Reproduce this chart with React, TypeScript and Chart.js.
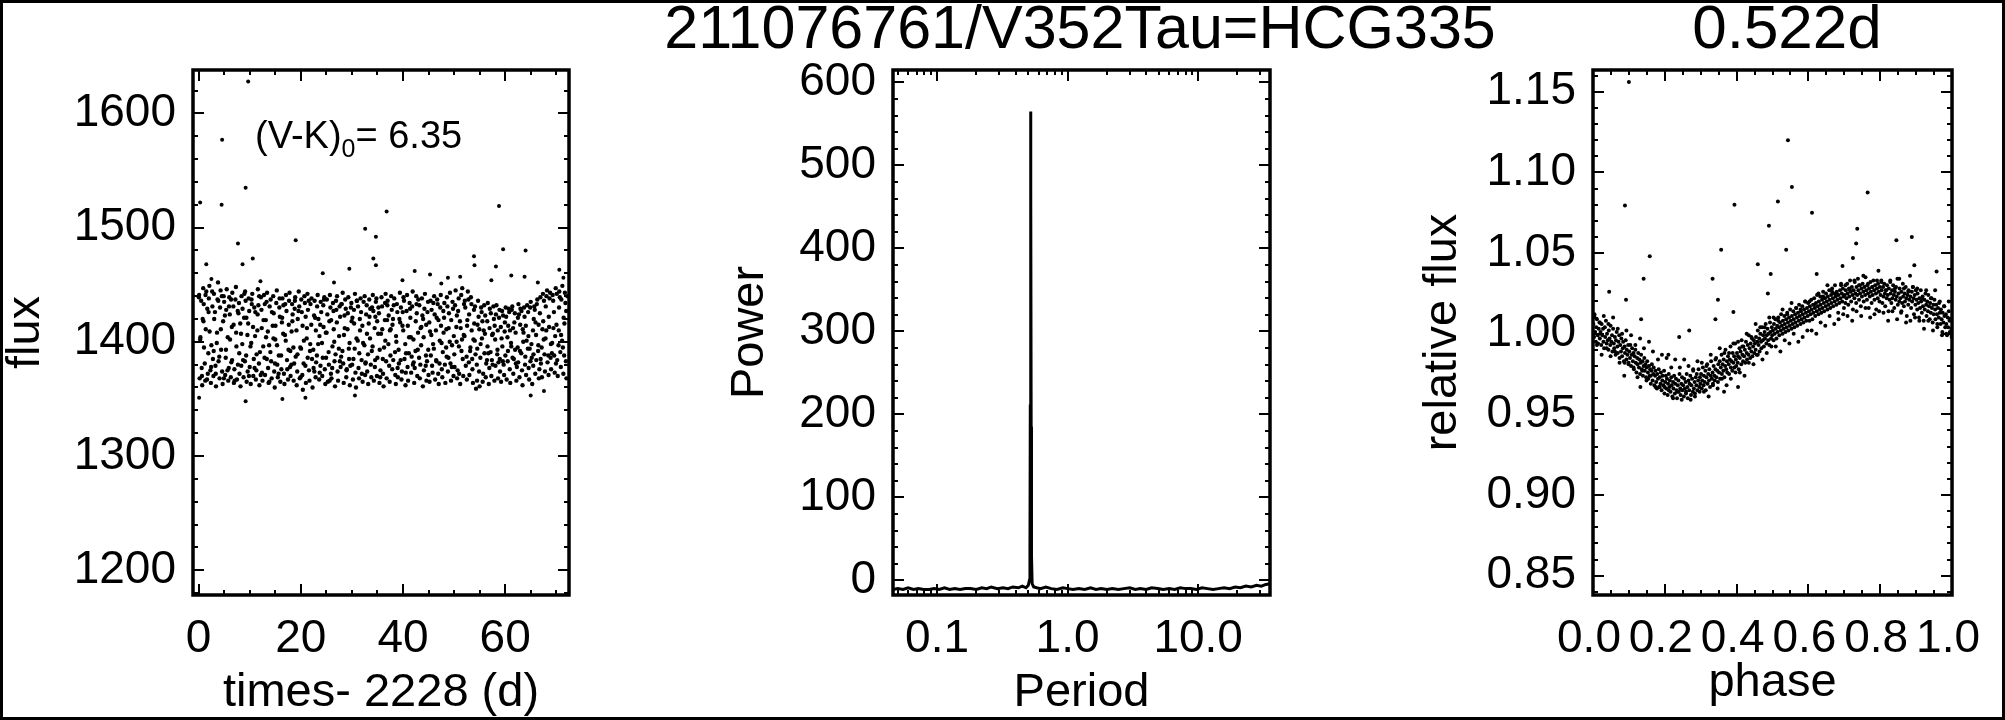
import { useEffect, useRef } from "react";
import { Chart, registerables } from "chart.js";
Chart.register(...registerables);

const FONT = "'Liberation Sans', Arial, Helvetica, sans-serif";
const W = 2005;
const H = 720;

// ---------------- Panel 1 : light curve ----------------
const lcTitle = "times- 2228 (d)";
const lcXTicks = [0, 20, 40, 60];
const lcXTickLabels = ["0", "20", "40", "60"];
const lcXMinor = [5, 10, 15, 25, 30, 35, 45, 50, 55, 65, 70];
const lcYTicks = [1200, 1300, 1400, 1500, 1600];
const lcYTickLabels = ["1200", "1300", "1400", "1500", "1600"];
const lcYMinor = [1180, 1220, 1240, 1260, 1280, 1320, 1340, 1360, 1380, 1420, 1440, 1460, 1480, 1520, 1540, 1560, 1580, 1620];

const lightCurve: [number, number][] = [
  [0.1,1441],[0.2,1368],[0.3,1402],[0.5,1436],[0.6,1377],[0.7,1362],[0.8,1420],[0.9,1447],
  [1.0,1433],[1.2,1381],[1.3,1366],[1.4,1411],[1.5,1444],[1.7,1429],[1.8,1372],[1.9,1390],
  [2.0,1438],[2.1,1449],[2.3,1375],[2.4,1364],[2.5,1397],[2.7,1431],[2.8,1385],[2.9,1370],
  [3.0,1442],[3.2,1426],[3.3,1379],[3.4,1361],[3.6,1408],[3.7,1437],[3.8,1452],[3.9,1383],
  [4.1,1368],[4.2,1430],[4.3,1445],[4.4,1393],[4.6,1374],[4.7,1363],[4.8,1418],[4.9,1440],
  [5.0,1435],[5.2,1371],[5.3,1386],[5.4,1428],[5.5,1446],[5.7,1404],[5.8,1366],[5.9,1377],
  [6.0,1439],[6.1,1424],[6.3,1369],[6.4,1382],[6.5,1413],[6.6,1443],[6.8,1431],[6.9,1364],
  [7.0,1376],[7.2,1437],[7.3,1448],[7.4,1396],[7.5,1367],[7.7,1380],[7.8,1425],[7.9,1434],
  [8.0,1372],[8.2,1361],[8.3,1407],[8.4,1440],[8.6,1429],[8.7,1384],[8.8,1369],[8.9,1421],
  [9.1,1444],[9.2,1436],[9.3,1388],[9.4,1365],[9.6,1374],[9.7,1416],[9.8,1438],[9.9,1427],
  [10.0,1378],[10.2,1363],[10.3,1399],[10.4,1433],[10.5,1442],[10.7,1370],[10.8,1385],[10.9,1430],
  [11.1,1426],[11.2,1367],[11.3,1375],[11.5,1410],[11.6,1446],[11.7,1432],[11.8,1381],[11.9,1362],
  [12.0,1391],[12.2,1439],[12.3,1428],[12.4,1373],[12.5,1366],[12.7,1419],[12.8,1441],[12.9,1386],
  [13.0,1371],[13.2,1404],[13.3,1435],[13.4,1443],[13.6,1377],[13.7,1364],[13.8,1397],[13.9,1431],
  [14.1,1437],[14.2,1383],[14.3,1368],[14.5,1414],[14.6,1440],[14.7,1425],[14.8,1374],[14.9,1360],
  [15.0,1402],[15.2,1434],[15.3,1445],[15.4,1380],[15.5,1369],[15.7,1388],[15.8,1430],[15.9,1422],
  [16.0,1365],[16.2,1376],[16.3,1417],[16.4,1438],[16.6,1432],[16.7,1372],[16.8,1363],[16.9,1406],
  [17.1,1441],[17.2,1427],[17.3,1384],[17.5,1367],[17.6,1393],[17.7,1436],[17.8,1443],[17.9,1378],
  [18.0,1370],[18.2,1409],[18.3,1433],[18.4,1424],[18.6,1366],[18.7,1381],[18.8,1429],[18.9,1439],
  [19.0,1387],[19.2,1362],[19.3,1374],[19.4,1420],[19.6,1444],[19.7,1431],[19.8,1368],[19.9,1395],
  [20.1,1437],[20.2,1426],[20.3,1371],[20.4,1358],[20.6,1401],[20.7,1440],[20.8,1434],[20.9,1379],
  [21.0,1364],[21.2,1412],[21.3,1442],[21.4,1428],[21.6,1375],[21.7,1366],[21.8,1392],[21.9,1433],
  [22.1,1438],[22.2,1385],[22.3,1360],[22.5,1377],[22.6,1423],[22.7,1436],[22.8,1421],[22.9,1369],
  [23.0,1382],[23.2,1431],[23.3,1441],[23.4,1398],[23.6,1367],[23.7,1373],[23.8,1415],[23.9,1435],
  [24.0,1426],[24.2,1370],[24.3,1386],[24.4,1432],[24.6,1439],[24.7,1376],[24.8,1363],[24.9,1408],
  [25.1,1437],[25.2,1424],[25.3,1365],[25.5,1380],[25.6,1418],[25.7,1441],[25.8,1430],[25.9,1372],
  [26.0,1368],[26.2,1396],[26.3,1434],[26.4,1427],[26.6,1383],[26.7,1361],[26.8,1389],[26.9,1436],
  [27.1,1440],[27.2,1374],[27.3,1366],[27.5,1405],[27.6,1431],[27.7,1422],[27.8,1378],[27.9,1387],
  [28.0,1433],[28.2,1443],[28.3,1381],[28.4,1364],[28.6,1412],[28.7,1437],[28.8,1429],[28.9,1369],
  [29.0,1376],[29.2,1425],[29.3,1439],[29.4,1394],[29.6,1362],[29.7,1379],[29.8,1430],[29.9,1434],
  [30.1,1421],[30.2,1367],[30.3,1385],[30.4,1428],[30.6,1442],[30.7,1373],[30.8,1360],[30.9,1403],
  [31.0,1436],[31.2,1431],[31.3,1377],[31.4,1368],[31.6,1410],[31.7,1438],[31.8,1426],[31.9,1384],
  [32.1,1365],[32.2,1399],[32.3,1435],[32.5,1440],[32.6,1371],[32.7,1382],[32.8,1424],[32.9,1432],
  [33.0,1374],[33.2,1363],[33.3,1416],[33.4,1437],[33.6,1429],[33.7,1380],[33.8,1369],[33.9,1392],
  [34.1,1441],[34.2,1427],[34.3,1366],[34.5,1378],[34.6,1422],[34.7,1435],[34.8,1438],[34.9,1370],
  [35.0,1386],[35.2,1430],[35.3,1425],[35.4,1364],[35.6,1375],[35.7,1407],[35.8,1439],[35.9,1431],
  [36.1,1372],[36.2,1361],[36.3,1395],[36.5,1434],[36.6,1442],[36.7,1383],[36.8,1368],[36.9,1419],
  [37.0,1436],[37.2,1423],[37.3,1379],[37.4,1365],[37.6,1411],[37.7,1440],[37.8,1428],[37.9,1376],
  [38.1,1384],[38.2,1432],[38.3,1438],[38.5,1371],[38.6,1363],[38.7,1400],[38.8,1433],[38.9,1426],
  [39.0,1369],[39.2,1381],[39.3,1420],[39.4,1443],[39.6,1430],[39.7,1367],[39.8,1374],[39.9,1414],
  [40.1,1439],[40.2,1436],[40.3,1385],[40.5,1362],[40.6,1390],[40.7,1427],[40.8,1441],[40.9,1378],
  [41.0,1366],[41.2,1404],[41.3,1434],[41.4,1429],[41.6,1373],[41.7,1387],[41.8,1431],[41.9,1444],
  [42.1,1382],[42.2,1364],[42.3,1377],[42.5,1418],[42.6,1440],[42.7,1425],[42.8,1370],[42.9,1393],
  [43.0,1437],[43.2,1432],[43.3,1368],[43.4,1380],[43.6,1413],[43.7,1438],[43.8,1423],[43.9,1361],
  [44.1,1375],[44.2,1429],[44.3,1442],[44.5,1388],[44.6,1366],[44.7,1383],[44.8,1426],[44.9,1435],
  [45.0,1371],[45.2,1365],[45.3,1409],[45.4,1436],[45.6,1428],[45.7,1379],[45.8,1373],[45.9,1398],
  [46.1,1440],[46.2,1424],[46.3,1367],[46.5,1384],[46.6,1421],[46.7,1437],[46.8,1433],[46.9,1372],
  [47.0,1363],[47.2,1401],[47.3,1430],[47.4,1441],[47.6,1376],[47.7,1369],[47.8,1391],[47.9,1427],
  [48.1,1434],[48.2,1380],[48.3,1364],[48.5,1411],[48.6,1439],[48.7,1431],[48.8,1374],[48.9,1386],
  [49.0,1425],[49.2,1443],[49.3,1381],[49.4,1366],[49.6,1397],[49.7,1435],[49.8,1429],[49.9,1370],
  [50.1,1378],[50.2,1432],[50.3,1445],[50.5,1400],[50.6,1368],[50.7,1375],[50.8,1427],[50.9,1438],
  [51.0,1372],[51.2,1363],[51.3,1412],[51.4,1441],[51.6,1447],[51.7,1385],[51.8,1370],[51.9,1406],
  [52.1,1436],[52.2,1430],[52.3,1379],[52.5,1367],[52.6,1419],[52.7,1444],[52.8,1437],[52.9,1382],
  [53.0,1371],[53.2,1395],[53.3,1439],[53.4,1433],[53.6,1376],[53.7,1364],[53.8,1402],[53.9,1428],
  [54.1,1431],[54.2,1389],[54.3,1359],[54.5,1366],[54.6,1415],[54.7,1436],[54.8,1422],[54.9,1374],
  [55.0,1361],[55.2,1398],[55.3,1430],[55.4,1426],[55.6,1365],[55.7,1372],[55.8,1410],[55.9,1432],
  [56.1,1423],[56.2,1369],[56.3,1381],[56.5,1418],[56.6,1434],[56.7,1390],[56.8,1363],[56.9,1377],
  [57.0,1429],[57.2,1425],[57.3,1370],[57.4,1384],[57.6,1407],[57.7,1431],[57.8,1420],[57.9,1366],
  [58.1,1379],[58.2,1424],[58.3,1432],[58.5,1393],[58.6,1368],[58.7,1382],[58.8,1421],[58.9,1428],
  [59.0,1374],[59.2,1365],[59.3,1403],[59.4,1427],[59.6,1423],[59.7,1380],[59.8,1371],[59.9,1409],
  [60.1,1430],[60.2,1422],[60.3,1367],[60.5,1383],[60.6,1414],[60.7,1429],[60.8,1426],[60.9,1376],
  [61.0,1364],[61.2,1396],[61.3,1428],[61.4,1431],[61.6,1372],[61.7,1385],[61.8,1417],[61.9,1425],
  [62.1,1381],[62.2,1366],[62.3,1378],[62.5,1421],[62.6,1433],[62.7,1424],[62.8,1369],[62.9,1392],
  [63.0,1429],[63.2,1427],[63.3,1375],[63.4,1362],[63.6,1408],[63.7,1430],[63.8,1422],[63.9,1380],
  [64.1,1371],[64.2,1401],[64.3,1432],[64.5,1426],[64.6,1377],[64.7,1367],[64.8,1394],[64.9,1430],
  [65.0,1435],[65.2,1386],[65.3,1363],[65.5,1379],[65.6,1420],[65.7,1431],[65.8,1428],[65.9,1372],
  [66.1,1384],[66.2,1433],[66.3,1437],[66.5,1397],[66.6,1368],[66.7,1376],[66.8,1425],[66.9,1439],
  [67.0,1381],[67.2,1369],[67.3,1411],[67.4,1442],[67.6,1436],[67.7,1389],[67.8,1374],[67.9,1403],
  [68.1,1440],[68.2,1445],[68.3,1382],[68.5,1371],[68.6,1413],[68.7,1438],[68.8,1443],[68.9,1386],
  [69.0,1376],[69.2,1399],[69.3,1441],[69.4,1436],[69.6,1388],[69.7,1373],[69.8,1405],[69.9,1447],
  [70.1,1442],[70.2,1384],[70.3,1370],[70.5,1410],[70.6,1444],[70.7,1439],[70.8,1391],[70.9,1378],
  [71.0,1437],[71.2,1449],[71.3,1395],[71.4,1372],[71.6,1416],[71.7,1443],[71.8,1434],[71.9,1383],
  [72.0,1368],[72.2,1440],
  [0.05,1439],[0.35,1404],[0.65,1370],[0.95,1418],[1.05,1395],[1.35,1441],[1.65,1367],[1.95,1426],
  [2.15,1409],[2.45,1378],[2.65,1444],[2.95,1392],[3.05,1420],[3.35,1372],[3.55,1399],[3.85,1436],
  [4.05,1387],[4.35,1411],[4.55,1440],[4.95,1368],[5.15,1423],[5.35,1393],[5.65,1375],[5.95,1431],
  [6.15,1402],[6.35,1437],[6.55,1384],[6.85,1415],[7.05,1366],[7.35,1408],[7.65,1427],[7.95,1390],
  [8.15,1416],[8.35,1379],[8.55,1398],[8.95,1442],[9.05,1383],[9.35,1421],[9.55,1406],[9.85,1370],
  [10.15,1396],[10.35,1437],[10.65,1413],[10.95,1377],[11.05,1405],[11.35,1389],[11.55,1424],[11.85,1440],
  [12.15,1371],[12.35,1412],[12.65,1396],[12.95,1433],[13.15,1419],[13.35,1385],[13.55,1409],[13.85,1365],
  [14.05,1391],[14.35,1426],[14.65,1403],[14.95,1381],[15.05,1414],[15.35,1397],[15.65,1372],[15.85,1438],
  [16.15,1388],[16.35,1421],[16.55,1407],[16.95,1433],[17.05,1401],[17.35,1376],[17.65,1415],[17.95,1392],
  [18.15,1380],[18.35,1418],[18.55,1395],[18.85,1436],[19.15,1410],[19.35,1389],[19.55,1427],[19.95,1369],
  [20.05,1394],[20.35,1414],[20.55,1381],[20.95,1422],[21.15,1403],[21.35,1386],[21.55,1436],[21.85,1398],
  [22.05,1415],[22.45,1393],[22.65,1374],[22.95,1410],[23.15,1388],[23.45,1420],[23.65,1405],[23.85,1379],
  [24.15,1399],[24.45,1413],[24.55,1437],[24.95,1386],[25.05,1408],[25.45,1391],[25.65,1366],[25.95,1419],
  [26.15,1377],[26.45,1411],[26.55,1400],[26.95,1428],[27.05,1417],[27.45,1394],[27.65,1383],[27.95,1433],
  [28.15,1392],[28.45,1406],[28.55,1423],[28.95,1375],[29.15,1411],[29.45,1385],[29.55,1399],[29.95,1418],
  [30.05,1380],[30.45,1416],[30.55,1394],[30.95,1436],[31.15,1401],[31.45,1390],[31.55,1420],[31.95,1372],
  [32.05,1414],[32.45,1397],[32.65,1381],[32.95,1407],[33.15,1389],[33.45,1422],[33.55,1403],[33.95,1430],
  [34.05,1396],[34.45,1412],[34.55,1384],[34.95,1418],[35.15,1407],[35.45,1393],[35.55,1369],[35.95,1411],
  [36.05,1385],[36.45,1419],[36.55,1401],[36.95,1432],[37.15,1398],[37.45,1410],[37.55,1388],[37.95,1415],
  [38.05,1420],[38.45,1391],[38.65,1405],[38.95,1377],[39.15,1393],[39.45,1417],[39.55,1384],[39.95,1426],
  [40.05,1410],[40.45,1398],[40.55,1373],[40.95,1414],[41.15,1390],[41.45,1421],[41.55,1404],[41.95,1380],
  [42.05,1402],[42.45,1392],[42.65,1433],[42.95,1408],[43.15,1386],[43.45,1412],[43.55,1397],[43.95,1420],
  [44.05,1404],[44.45,1379],[44.55,1415],[44.95,1393],[45.15,1417],[45.45,1388],[45.55,1406],[45.95,1434],
  [46.05,1394],[46.45,1410],[46.55,1383],[46.95,1419],[47.15,1381],[47.45,1414],[47.55,1399],[47.95,1408],
  [48.05,1421],[48.45,1395],[48.55,1387],[48.95,1412],[49.15,1400],[49.45,1419],[49.55,1378],[49.95,1405],
  [50.05,1389],[50.45,1413],[50.55,1423],[50.95,1396],[51.15,1418],[51.45,1392],[51.55,1402],[51.95,1433],
  [52.05,1405],[52.45,1387],[52.55,1414],[52.95,1424],[53.15,1392],[53.45,1410],[53.55,1385],[53.95,1416],
  [54.05,1401],[54.45,1380],[54.55,1394],[54.95,1411],[55.15,1386],[55.45,1403],[55.55,1418],[55.95,1390],
  [56.05,1407],[56.45,1384],[56.55,1396],[56.95,1412],[57.15,1391],[57.45,1406],[57.55,1380],[57.95,1414],
  [58.05,1402],[58.45,1389],[58.55,1410],[58.95,1385],[59.15,1413],[59.45,1396],[59.55,1383],[59.95,1417],
  [60.05,1388],[60.45,1404],[60.55,1392],[60.95,1410],[61.15,1399],[61.45,1386],[61.55,1412],[61.95,1393],
  [62.05,1408],[62.45,1395],[62.55,1382],[62.95,1415],[63.15,1390],[63.45,1411],[63.55,1400],[63.95,1387],
  [64.05,1414],[64.45,1394],[64.55,1405],[64.95,1383],[65.15,1398],[65.45,1410],[65.55,1389],[65.95,1417],
  [66.05,1406],[66.45,1392],[66.55,1415],[66.95,1385],[67.15,1395],[67.45,1418],[67.55,1402],[67.95,1431],
  [68.05,1410],[68.45,1388],[68.55,1422],[68.95,1398],[69.15,1390],[69.45,1412],[69.55,1426],[69.95,1381],
  [70.05,1415],[70.45,1397],[70.55,1430],[70.95,1406],[71.15,1401],[71.45,1421],[71.55,1388],[71.95,1427],
];
const lightCurveOutliers: [number, number][] = [
  [9.7,1628],[4.6,1577],[0.3,1522],[4.5,1520],[9.2,1535],[7.7,1486],[19.0,1489],[36.8,1514],
  [32.6,1499],[34.7,1492],[34.2,1473],[58.8,1519],[59.6,1481],[64.0,1480],[53.9,1475],[54.0,1467],
  [1.5,1468],[10.6,1473],[8.6,1468],[29.5,1464],[24.3,1460],[42.3,1462],[45.3,1459],[58.2,1466],
  [61.2,1458],[63.8,1457],[34.7,1467],[70.6,1463],[48.8,1456],[9.2,1348],[16.4,1350],[20.9,1351],
  [30.6,1353],[65.0,1353],[67.6,1357],[0.1,1351],[2.5,1455],[12.1,1453],[26.5,1452],[39.9,1454],
  [47.5,1451],[51.2,1457],[57.3,1454],[66.4,1452],[71.4,1456],
];

// ---------------- Panel 2 : periodogram ----------------
const psXTicks = [0.1, 1, 10];
const psXTickLabels = ["0.1", "1.0", "10.0"];
const psXMinor = [0.05, 0.06, 0.07, 0.08, 0.09, 0.2, 0.3, 0.4, 0.5, 0.6, 0.7, 0.8, 0.9, 2, 3, 4, 5, 6, 7, 8, 9, 20, 30];
const psYTicks = [0, 100, 200, 300, 400, 500, 600];
const psYTickLabels = ["0", "100", "200", "300", "400", "500", "600"];
const psYMinor = [20, 40, 60, 80, 120, 140, 160, 180, 220, 240, 260, 280, 320, 340, 360, 380, 420, 440, 460, 480, 520, 540, 560, 580];
const psPeriod = [
  0.046, 0.05, 0.055, 0.06, 0.066, 0.072, 0.079, 0.087, 0.095, 0.104, 0.114, 0.125, 0.137, 0.15,
  0.165, 0.18, 0.2, 0.22, 0.24, 0.26, 0.29, 0.32, 0.35, 0.38, 0.42, 0.45, 0.48, 0.5, 0.51, 0.515,
  0.518, 0.52, 0.522, 0.524, 0.526, 0.529, 0.535, 0.55, 0.58, 0.62, 0.68, 0.75, 0.83, 0.92, 1.0,
  1.1, 1.22, 1.35, 1.5, 1.65, 1.8, 2.0, 2.2, 2.45, 2.7, 3.0, 3.3, 3.6, 4.0, 4.4, 4.9, 5.4, 6.0,
  6.6, 7.3, 8.0, 8.8, 9.7, 10.7, 11.8, 13, 14.3, 15.8, 17.4, 19.2, 21.1, 23.2, 25.5, 28, 30.5, 33, 35.5,
];
const psPower = [
  -11, -10, -11, -9, -11, -10, -11, -11, -10, -11, -9, -11, -10, -11,
  -10, -10, -11, -9, -10, -8, -10, -9, -10, -8, -9, -7, -9, -6, 0, 35,
  210, 480, 565, 470, 185, 30, -4, -8, -9, -10, -8, -10, -11, -9, -10,
  -11, -10, -11, -9, -11, -10, -11, -10, -11, -10, -9, -11, -10, -11, -9, -10, -11, -10,
  -11, -9, -10, -10, -11, -9, -10, -11, -10, -9, -10, -8, -9, -7, -8, -6, -7, -5, -4,
];

// ---------------- Panel 3 : phased curve ----------------
const phXTicks = [0, 0.2, 0.4, 0.6, 0.8, 1.0];
const phXTickLabels = ["0.0", "0.2", "0.4", "0.6", "0.8", "1.0"];
const phXMinor = [0.05, 0.1, 0.15, 0.25, 0.3, 0.35, 0.45, 0.5, 0.55, 0.65, 0.7, 0.75, 0.85, 0.9, 0.95];
const phYTicks = [0.85, 0.9, 0.95, 1.0, 1.05, 1.1, 1.15];
const phYTickLabels = ["0.85", "0.90", "0.95", "1.00", "1.05", "1.10", "1.15"];
const phYMinor = [
  0.84, 0.86, 0.87, 0.88, 0.89, 0.91, 0.92, 0.93, 0.94, 0.96, 0.97, 0.98, 0.99, 1.01, 1.02, 1.03, 1.04,
  1.06, 1.07, 1.08, 1.09, 1.11, 1.12, 1.13, 1.14, 1.16,
];
const phased: [number, number][] = [
  [.001,1.006],[.003,.998],[.004,1.011],[.006,1.001],[.008,.995],[.009,1.004],[.011,1.009],[.013,.999],[.014,.994],[.016,1.003],[.018,1.007],[.019,.997],[.021,1.001],[.023,.993],[.024,1.006],[.026,.999],[.028,1.003],[.029,.995],[.031,.991],[.033,1.004],[.034,.998],[.036,1.008],[.038,.994],[.039,1.000],[.041,.996],[.043,.990],[.044,1.002],[.046,.997],[.048,.993],[.049,1.005],
  [.051,.995],[.053,.999],[.054,.989],[.056,1.003],[.058,.994],[.059,.991],[.061,.998],[.063,.987],[.064,.996],[.066,1.001],[.068,.992],[.069,.988],[.071,.995],[.073,.999],[.074,.985],[.076,.993],[.078,.989],[.079,.997],[.081,.986],[.083,.991],[.084,.995],[.086,.983],[.088,.992],[.089,.988],[.091,.996],[.093,.984],[.094,.990],[.096,.987],[.098,.993],[.099,.981],
  [.101,.989],[.103,.985],[.104,.993],[.106,.980],[.108,.987],[.109,.991],[.111,.983],[.113,.988],[.114,.978],[.116,.986],[.118,.990],[.119,.982],[.121,.976],[.123,.985],[.124,.981],[.126,.988],[.128,.979],[.129,.984],[.131,.975],[.133,.982],[.134,.987],[.136,.978],[.138,.983],[.139,.974],[.141,.980],[.143,.985],[.144,.977],[.146,.981],[.148,.973],[.149,.979],
  [.151,.983],[.153,.976],[.154,.972],[.156,.980],[.158,.974],[.159,.978],[.161,.969],[.163,.977],[.164,.981],[.166,.971],[.168,.975],[.169,.979],[.171,.968],[.173,.974],[.174,.977],[.176,.970],[.178,.966],[.179,.975],[.181,.972],[.183,.978],[.184,.967],[.186,.973],[.188,.969],[.189,.976],[.191,.965],[.193,.971],[.194,.974],[.196,.968],[.198,.977],[.199,.963],
  [.201,.970],[.203,.974],[.204,.966],[.206,.972],[.208,.962],[.209,.969],[.211,.975],[.213,.967],[.214,.971],[.216,.964],[.218,.973],[.219,.968],[.221,.961],[.223,.970],[.224,.966],[.226,.974],[.228,.963],[.229,.969],[.231,.972],[.233,.965],[.234,.960],[.236,.968],[.238,.971],[.239,.964],[.241,.975],[.243,.966],[.244,.962],[.246,.969],[.248,.973],[.249,.965],
  [.251,.968],[.253,.961],[.254,.972],[.256,.966],[.258,.970],[.259,.963],[.261,.975],[.263,.967],[.264,.960],[.266,.971],[.268,.965],[.269,.969],[.271,.974],[.273,.962],[.274,.968],[.276,.972],[.278,.964],[.279,.977],[.281,.966],[.283,.970],[.284,.963],[.286,.973],[.288,.968],[.289,.975],[.291,.965],[.293,.971],[.294,.978],[.296,.967],[.298,.973],[.299,.969],
  [.301,.975],[.303,.966],[.304,.971],[.306,.979],[.308,.968],[.309,.974],[.311,.970],[.313,.977],[.314,.965],[.316,.973],[.318,.981],[.319,.969],[.321,.975],[.323,.971],[.324,.978],[.326,.967],[.328,.974],[.329,.983],[.331,.972],[.333,.976],[.334,.969],[.336,.980],[.338,.974],[.339,.971],[.341,.978],[.343,.985],[.344,.973],[.346,.977],[.348,.970],[.349,.981],
  [.351,.976],[.353,.983],[.354,.972],[.356,.979],[.358,.987],[.359,.975],[.361,.981],[.363,.977],[.364,.984],[.366,.973],[.368,.980],[.369,.990],[.371,.978],[.373,.983],[.374,.976],[.376,.986],[.378,.981],[.379,.975],[.381,.984],[.383,.992],[.384,.979],[.386,.983],[.388,.977],[.389,.988],[.391,.982],[.393,.986],[.394,.979],[.396,.994],[.398,.984],[.399,.980],
  [.401,.988],[.403,.982],[.404,.986],[.406,.978],[.408,.991],[.409,.985],[.411,.989],[.413,.981],[.414,.996],[.416,.987],[.418,.983],[.419,.992],[.421,.986],[.423,.990],[.424,.982],[.426,.995],[.428,.988],[.429,.984],[.431,.993],[.433,.987],[.434,.999],[.436,.991],[.438,.985],[.439,.994],[.441,.989],[.443,.997],[.444,.986],[.446,.992],[.448,.996],[.449,.988],
  [.451,.994],[.453,.990],[.454,.998],[.456,.987],[.458,.995],[.459,1.002],[.461,.993],[.463,.997],[.464,.989],[.466,1.000],[.468,.995],[.469,.991],[.471,1.004],[.473,.996],[.474,.999],[.476,.992],[.478,1.001],[.479,.997],[.481,1.006],[.483,.994],[.484,.999],[.486,1.003],[.488,.996],[.489,1.000],[.491,.993],[.493,1.007],[.494,1.001],[.496,.997],[.498,1.004],[.499,.999],
  [.501,1.002],[.503,.996],[.504,1.006],[.506,1.000],[.508,1.009],[.509,1.003],[.511,.997],[.513,1.005],[.514,1.001],[.516,1.010],[.518,1.004],[.519,.999],[.521,1.007],[.523,1.002],[.524,1.012],[.526,1.005],[.528,1.000],[.529,1.008],[.531,1.003],[.533,1.011],[.534,1.006],[.536,1.001],[.538,1.009],[.539,1.004],[.541,1.013],[.543,1.007],[.544,1.002],[.546,1.010],[.548,1.005],[.549,1.015],
  [.551,1.008],[.553,1.003],[.554,1.011],[.556,1.006],[.558,1.014],[.559,1.009],[.561,1.004],[.563,1.012],[.564,1.007],[.566,1.016],[.568,1.010],[.569,1.005],[.571,1.013],[.573,1.008],[.574,1.018],[.576,1.011],[.578,1.006],[.579,1.014],[.581,1.009],[.583,1.017],[.584,1.012],[.586,1.007],[.588,1.015],[.589,1.010],[.591,1.020],[.593,1.013],[.594,1.008],[.596,1.016],[.598,1.011],[.599,1.019],
  [.601,1.014],[.603,1.008],[.604,1.017],[.606,1.012],[.608,1.021],[.609,1.015],[.611,1.009],[.613,1.018],[.614,1.013],[.616,1.022],[.618,1.016],[.619,1.011],[.621,1.019],[.623,1.014],[.624,1.024],[.626,1.017],[.628,1.012],[.629,1.020],[.631,1.015],[.633,1.023],[.634,1.018],[.636,1.013],[.638,1.021],[.639,1.016],[.641,1.026],[.643,1.019],[.644,1.014],[.646,1.022],[.648,1.017],[.649,1.025],
  [.651,1.020],[.653,1.015],[.654,1.023],[.656,1.018],[.658,1.027],[.659,1.021],[.661,1.016],[.663,1.024],[.664,1.019],[.666,1.028],[.668,1.022],[.669,1.017],[.671,1.025],[.673,1.020],[.674,1.030],[.676,1.023],[.678,1.018],[.679,1.026],[.681,1.021],[.683,1.013],[.684,1.024],[.686,1.019],[.688,1.027],[.689,1.022],[.691,1.031],[.693,1.025],[.694,1.020],[.696,1.028],[.698,1.023],[.699,1.016],
  [.701,1.024],[.703,1.019],[.704,1.027],[.706,1.022],[.708,1.031],[.709,1.025],[.711,1.018],[.713,1.028],[.714,1.023],[.716,1.033],[.718,1.026],[.719,1.020],[.721,1.029],[.723,1.024],[.724,1.015],[.726,1.027],[.728,1.022],[.729,1.032],[.731,1.025],[.733,1.019],[.734,1.029],[.736,1.024],[.738,1.034],[.739,1.027],[.741,1.021],[.743,1.030],[.744,1.025],[.746,1.017],[.748,1.028],[.749,1.023],
  [.751,1.031],[.753,1.026],[.754,1.020],[.756,1.029],[.758,1.024],[.759,1.035],[.761,1.027],[.763,1.021],[.764,1.030],[.766,1.025],[.768,1.016],[.769,1.028],[.771,1.023],[.773,1.032],[.774,1.026],[.776,1.019],[.778,1.029],[.779,1.024],[.781,1.033],[.783,1.027],[.784,1.021],[.786,1.030],[.788,1.025],[.789,1.015],[.791,1.028],[.793,1.022],[.794,1.031],[.796,1.026],[.798,1.020],[.799,1.029],
  [.801,1.024],[.803,1.033],[.804,1.027],[.806,1.019],[.808,1.029],[.809,1.023],[.811,1.031],[.813,1.025],[.814,1.017],[.816,1.027],[.818,1.022],[.819,1.030],[.821,1.024],[.823,1.014],[.824,1.028],[.826,1.021],[.828,1.032],[.829,1.025],[.831,1.019],[.833,1.027],[.834,1.022],[.836,1.030],[.838,1.024],[.839,1.016],[.841,1.026],[.843,1.021],[.844,1.029],[.846,1.023],[.848,1.034],[.849,1.018],
  [.851,1.025],[.853,1.020],[.854,1.028],[.856,1.022],[.858,1.013],[.859,1.026],[.861,1.019],[.863,1.031],[.864,1.023],[.866,1.017],[.868,1.025],[.869,1.020],[.871,1.029],[.873,1.022],[.874,1.011],[.876,1.024],[.878,1.018],[.879,1.027],[.881,1.021],[.883,1.036],[.884,1.023],[.886,1.016],[.888,1.026],[.889,1.020],[.891,1.029],[.893,1.022],[.894,1.012],[.896,1.024],[.898,1.018],[.899,1.027],
  [.901,1.021],[.903,1.015],[.904,1.025],[.906,1.019],[.908,1.010],[.909,1.022],[.911,1.016],[.913,1.027],[.914,1.020],[.916,1.013],[.918,1.023],[.919,1.017],[.921,1.008],[.923,1.021],[.924,1.015],[.926,1.025],[.928,1.018],[.929,1.011],[.931,1.020],[.933,1.014],[.934,1.024],[.936,1.017],[.938,1.009],[.939,1.019],[.941,1.013],[.943,1.022],[.944,1.016],[.946,1.007],[.948,1.018],[.949,1.012],
  [.951,1.021],[.953,1.015],[.954,1.009],[.956,1.018],[.958,1.012],[.959,1.004],[.961,1.016],[.963,1.010],[.964,1.019],[.966,1.013],[.968,1.006],[.969,1.015],[.971,1.009],[.973,1.001],[.974,1.013],[.976,1.007],[.978,1.017],[.979,1.011],[.981,1.004],[.983,1.012],[.984,1.006],[.986,.999],[.988,1.010],[.989,1.004],[.991,1.014],[.993,1.008],[.994,1.001],[.996,1.009],[.998,1.003],[.999,.998],
  [.004,1.012],[.011,.993],[.019,1.007],[.024,.987],[.030,1.011],[.038,.991],[.043,1.006],[.049,.986],
  [.056,1.010],[.061,.989],[.069,1.003],[.074,.982],[.081,1.000],[.088,.982],[.093,1.002],[.099,.982],
  [.106,.999],[.113,.979],[.118,.993],[.124,.973],[.131,.997],[.137,.977],[.142,.991],[.149,.971],
  [.156,.995],[.161,.974],[.167,.989],[.174,.967],[.181,.984],[.186,.967],[.192,.987],[.199,.967],
  [.205,.985],[.211,.965],[.218,.979],[.223,.960],[.229,.984],[.236,.964],[.242,.979],[.247,.959],
  [.254,.984],[.259,.964],[.266,.980],[.272,.959],[.279,.978],[.284,.961],[.291,.983],[.297,.964],
  [.303,.982],[.309,.964],[.316,.980],[.322,.961],[.328,.987],[.334,.968],[.341,.984],[.347,.966],
  [.353,.991],[.359,.972],[.366,.988],[.372,.968],[.379,.988],[.384,.972],[.391,.994],[.397,.976],
  [.404,.995],[.409,.976],[.416,.992],[.422,.974],[.428,1.000],[.434,.982],[.441,.998],[.447,.981],
  [.453,1.006],[.459,.987],[.466,1.004],[.472,.984],[.478,1.004],[.484,.988],[.491,1.010],[.497,.992],
  [.503,1.010],[.509,.992],[.516,1.008],[.522,.989],[.528,1.015],[.534,.996],[.541,1.012],[.547,.994],
  [.553,1.019],[.559,1.000],[.566,1.016],[.572,.995],[.578,1.015],[.584,.998],[.591,1.020],[.597,1.002],
  [.603,1.020],[.609,1.002],[.616,1.018],[.622,1.000],[.628,1.025],[.634,1.007],[.641,1.023],[.647,1.005],
  [.653,1.030],[.659,1.011],[.666,1.026],[.672,1.006],[.678,1.025],[.684,1.009],[.691,1.030],[.697,1.012],
  [.703,1.030],[.709,1.011],[.716,1.027],[.722,1.008],[.728,1.033],[.734,1.014],[.741,1.030],[.747,1.011],
  [.753,1.036],[.759,1.016],[.766,1.031],[.772,1.010],[.778,1.029],[.784,1.012],[.791,1.033],[.797,1.014],
  [.803,1.032],[.809,1.013],[.816,1.027],[.822,1.008],[.828,1.033],[.834,1.014],[.841,1.028],[.847,1.009],
  [.853,1.034],[.859,1.014],[.866,1.028],[.872,1.007],[.878,1.026],[.884,1.008],[.891,1.029],[.897,1.010],
  [.903,1.028],[.909,1.008],[.916,1.022],[.922,1.003],[.928,1.027],[.934,1.008],[.941,1.022],[.947,1.002],
  [.953,1.027],[.959,1.006],[.966,1.020],[.972,.999],[.978,1.017],[.984,1.000],[.991,1.020],[.997,1.000],
];
const phasedOutliers: [number, number][] = [
  [.100,1.156],[.089,1.0795],[.158,1.048],[.141,1.034],[.045,1.026],[.092,1.021],[.134,1.009],[.394,1.080],
  [.357,1.052],[.333,1.034],[.348,1.021],[.341,1.009],[.391,1.0135],[.268,1.002],[.543,1.120],[.554,1.091],
  [.515,1.082],[.610,1.075],[.490,1.067],[.538,1.052],[.765,1.0875],[.736,1.065],[.733,1.056],[.845,1.058],
  [.888,1.060],[.459,1.043],[.495,1.037],[.623,1.037],[.724,1.047],[.695,1.042],[.895,1.0425],[.957,1.0385],
  [.795,1.039],[.487,1.025],[.210,.987],[.240,.998],[.087,.974],[.132,.967],[.404,.967],[.365,.964],
];

const mainTitle = "211076761/V352Tau=HCG335";
const periodTitle = "0.522d";

// ---------------- plugins ----------------
const idlFrame = {
  id: "idlFrame",
  afterDatasetsDraw(chart: any, _args: any, opts: any) {
    const { ctx, chartArea: a } = chart;
    const xs = chart.scales.x;
    const ys = chart.scales.y;
    ctx.save();
    ctx.strokeStyle = "#000";
    ctx.lineWidth = 2;
    ctx.beginPath();
    const xt = (vals: number[], len: number) =>
      vals.forEach((v) => {
        const p = Math.round(xs.getPixelForValue(v));
        if (p < a.left - 1 || p > a.right + 1) return;
        ctx.moveTo(p, a.bottom);
        ctx.lineTo(p, a.bottom - len);
        ctx.moveTo(p, a.top);
        ctx.lineTo(p, a.top + len);
      });
    const yt = (vals: number[], len: number) =>
      vals.forEach((v) => {
        const p = Math.round(ys.getPixelForValue(v));
        if (p < a.top - 1 || p > a.bottom + 1) return;
        ctx.moveTo(a.left, p);
        ctx.lineTo(a.left + len, p);
        ctx.moveTo(a.right, p);
        ctx.lineTo(a.right - len, p);
      });
    xt(opts.xMajor, 11);
    xt(opts.xMinor, 5);
    yt(opts.yMajor, 11);
    yt(opts.yMinor, 5);
    ctx.stroke();
    ctx.lineWidth = 3.5;
    ctx.strokeRect(a.left, a.top, a.right - a.left, a.bottom - a.top);
    ctx.restore();
  },
};

const idlText = {
  id: "idlText",
  afterDraw(chart: any, _args: any, opts: any) {
    const ctx = chart.ctx;
    for (const item of opts.items || []) {
      ctx.save();
      ctx.fillStyle = "#000";
      ctx.textBaseline = "alphabetic";
      if (item.parts) {
        let x = item.x;
        ctx.textAlign = "left";
        for (const p of item.parts) {
          ctx.font = `${p.size}px ${FONT}`;
          ctx.fillText(p.text, x, item.y + (p.dy || 0));
          x += ctx.measureText(p.text).width;
        }
      } else {
        ctx.textAlign = item.align || "center";
        ctx.font = `${item.size}px ${FONT}`;
        ctx.fillText(item.text, item.x, item.y);
      }
      ctx.restore();
    }
  },
};

const f = (size: number) => ({ family: FONT, size, lineHeight: 1 });
const TICK_FONT = 46;
const AXIS_FONT = 47;

function xScale(o: any) {
  return {
    type: o.type || "linear",
    min: o.min,
    max: o.max,
    grid: { display: false, drawTicks: false },
    border: { display: false },
    afterBuildTicks: (s: any) => {
      s.ticks = o.ticks.map((v: number) => ({ value: v }));
    },
    afterFit: (s: any) => {
      s.height = 125;
    },
    ticks: {
      font: f(TICK_FONT),
      color: "#000",
      padding: 21,
      labelOffset: o.labelOffset || 0,
      autoSkip: false,
      maxRotation: 0,
      minRotation: 0,
      callback: (_v: any, i: number) => o.labels[i],
    },
    title: { display: true, text: o.title, font: f(AXIS_FONT), color: "#000", padding: { top: 0, bottom: o.titlePad } },
  };
}
function yScale(o: any) {
  return {
    type: "linear",
    min: o.min,
    max: o.max,
    grid: { display: false, drawTicks: false },
    border: { display: false },
    afterBuildTicks: (s: any) => {
      s.ticks = o.ticks.map((v: number) => ({ value: v }));
    },
    afterFit: (s: any) => {
      s.width = o.width;
    },
    ticks: {
      font: f(TICK_FONT),
      color: "#000",
      padding: 17,
      autoSkip: false,
      callback: (_v: any, i: number) => o.labels[i],
    },
    title: { display: true, text: o.title, font: f(AXIS_FONT), color: "#000", padding: { top: o.titlePad, bottom: 0 } },
  };
}

function baseOptions(padding: any, scales: any, frame: any, texts: any[]) {
  return {
    responsive: false,
    animation: false as const,
    devicePixelRatio: 1,
    layout: { padding },
    events: [],
    scales,
    plugins: {
      legend: { display: false },
      tooltip: { enabled: false },
      idlFrame: frame,
      idlText: { items: texts },
    },
  };
}

const dot = (r: number) => ({ pointRadius: r, pointBackgroundColor: "#000", pointBorderWidth: 0 });

function lightCurveConfig(): any {
  return {
    type: "scatter",
    data: {
      datasets: [
        { data: lightCurve.map(([x, y]) => ({ x, y })), ...dot(2.2) },
        { data: lightCurveOutliers.map(([x, y]) => ({ x, y })), ...dot(2) },
      ],
    },
    options: baseOptions(
      { left: 0, right: W - 569, top: 70, bottom: 0 },
      {
        x: xScale({ min: -1.1, max: 72.5, ticks: lcXTicks, labels: lcXTickLabels, title: lcTitle, titlePad: 3 }),
        y: yScale({ min: 1178.3, max: 1638, ticks: lcYTicks, labels: lcYTickLabels, title: "flux", width: 193, titlePad: 3 }),
      },
      { xMajor: lcXTicks, xMinor: lcXMinor, yMajor: lcYTicks, yMinor: lcYMinor },
      [
        {
          x: 255,
          y: 148,
          parts: [
            { text: "(V-K)", size: 38 },
            { text: "0", size: 25, dy: 9 },
            { text: "= 6.35", size: 38 },
          ],
        },
      ]
    ),
    plugins: [idlFrame, idlText],
  };
}

function periodogramConfig(): any {
  return {
    type: "line",
    data: {
      datasets: [
        {
          data: psPeriod.map((x, i) => ({ x, y: psPower[i] })),
          borderColor: "#000",
          borderWidth: 3,
          pointRadius: 0,
          tension: 0,
          fill: false,
        },
      ],
    },
    options: baseOptions(
      { left: 893 - 180, right: W - 1270, top: 70, bottom: 0 },
      {
        x: xScale({ type: "logarithmic", min: 0.046, max: 35.5, ticks: psXTicks, labels: psXTickLabels, title: "Period", titlePad: 3 }),
        y: yScale({ min: -17.7, max: 615, ticks: psYTicks, labels: psYTickLabels, title: "Power", width: 180, titlePad: 14 }),
      },
      { xMajor: psXTicks, xMinor: psXMinor, yMajor: psYTicks, yMinor: psYMinor },
      [{ text: mainTitle, x: 1080, y: 48, size: 61 }]
    ),
    plugins: [idlFrame, idlText],
  };
}

function phaseConfig(): any {
  return {
    type: "scatter",
    data: {
      datasets: [
        { data: phased.map(([x, y]) => ({ x, y })), ...dot(2) },
        { data: phasedOutliers.map(([x, y]) => ({ x, y })), ...dot(2) },
      ],
    },
    options: baseOptions(
      { left: 1593 - 180, right: W - 1966, top: 70, bottom: 0 },
      {
        x: xScale({ min: 0, max: 1, ticks: phXTicks, labels: phXTickLabels, title: "phase", titlePad: 13, labelOffset: -4 }),
        y: yScale({ min: 0.838, max: 1.1635, ticks: phYTicks, labels: phYTickLabels, title: "relative flux", width: 180, titlePad: 7 }),
      },
      { xMajor: phXTicks, xMinor: phXMinor, yMajor: phYTicks, yMinor: phYMinor },
      [{ text: periodTitle, x: 1787, y: 48, size: 62 }]
    ),
    plugins: [idlFrame, idlText],
  };
}

export default function App() {
  const r1 = useRef<HTMLCanvasElement>(null);
  const r2 = useRef<HTMLCanvasElement>(null);
  const r3 = useRef<HTMLCanvasElement>(null);
  useEffect(() => {
    const c1 = new Chart(r1.current as HTMLCanvasElement, lightCurveConfig());
    const c2 = new Chart(r2.current as HTMLCanvasElement, periodogramConfig());
    const c3 = new Chart(r3.current as HTMLCanvasElement, phaseConfig());
    return () => {
      c1.destroy();
      c2.destroy();
      c3.destroy();
    };
  }, []);
  const cs: any = { position: "absolute", left: 0, top: 0, width: W, height: H };
  return (
    <div style={{ position: "absolute", left: 0, top: 0, width: W, height: H, background: "#fff", overflow: "hidden" }}>
      <canvas ref={r1} width={W} height={H} style={cs} />
      <canvas ref={r2} width={W} height={H} style={cs} />
      <canvas ref={r3} width={W} height={H} style={cs} />
      <div
        style={{
          position: "absolute",
          left: 0,
          top: 0,
          width: W,
          height: H,
          boxSizing: "border-box",
          border: "3px solid #000",
          pointerEvents: "none",
        }}
      />
    </div>
  );
}
